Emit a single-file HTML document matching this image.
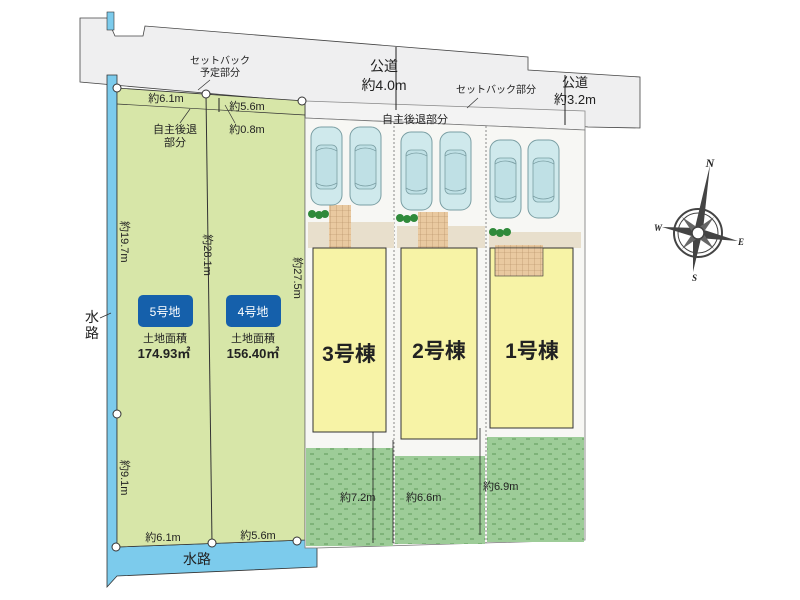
<!DOCTYPE html>
<html><head><meta charset="utf-8"><style>
html,body{margin:0;padding:0;background:#fff;}
svg{display:block;}
text{font-family:"Liberation Sans","Noto Sans CJK JP",sans-serif;fill:#222;}
</style></head><body>
<svg width="800" height="600" viewBox="0 0 800 600" xmlns="http://www.w3.org/2000/svg">
<defs>
<pattern id="grass" width="14" height="10" patternUnits="userSpaceOnUse">
<rect width="14" height="10" fill="#9dcc98"/>
<path d="M2 4h4M8 9h4" stroke="#5f9a5a" stroke-width="1"/>
</pattern>
<pattern id="tile" width="6" height="6" patternUnits="userSpaceOnUse">
<rect width="6" height="6" fill="#e9c9a0"/>
<path d="M0 0h6M0 0v6" stroke="#b08a60" stroke-width="0.6"/>
</pattern>
<g id="car">
<rect x="0" y="0" width="31" height="78" rx="10" fill="#cfe9ec" stroke="#7a9ea3" stroke-width="1"/>
<rect x="5" y="18" width="21" height="44" rx="5" fill="#bfe0e5" stroke="#7a9ea3" stroke-width="0.8"/>
<path d="M5 24q10 -6 21 0M5 56q10 6 21 0" fill="none" stroke="#7a9ea3" stroke-width="0.8"/>
</g>
</defs>
<!-- road -->
<polygon points="80,18 107,18 115,36 143,36 145,26 528,57 528,70 640,77 640,128 588,127 80,82" fill="#efeff0" stroke="#444" stroke-width="0.8"/>
<line x1="80" y1="82" x2="640" y2="128" stroke="#fff" stroke-width="0"/>
<!-- setback strip lots 1-3 -->
<polygon points="305,101 585,111 585,130 305,118" fill="#f3f3f3" stroke="#888" stroke-width="0.8"/>
<!-- water -->
<rect x="107" y="12" width="7" height="18" fill="#7ccbec" stroke="#333" stroke-width="0.6"/>
<polygon points="107,75 117,75 117,547 305,540 317,540 317,567 117,576 107,587" fill="#7ccbec" stroke="#333" stroke-width="0.8"/>
<!-- green lots -->
<polygon points="117,88 305,101 305,540 117,547" fill="#d7e6a8" stroke="#333" stroke-width="0.8"/>
<line x1="117" y1="104" x2="305" y2="115" stroke="#333" stroke-width="0.7"/>
<line x1="206" y1="94" x2="212" y2="543" stroke="#333" stroke-width="1"/>
<!-- lots 1-3 base -->
<polygon points="305,118 585,130 585,540 317,548 305,548" fill="#f7f7f4" stroke="#777" stroke-width="0.8"/>
<line x1="394" y1="122" x2="394" y2="545" stroke="#888" stroke-dasharray="2,2"/>
<line x1="486" y1="126" x2="486" y2="543" stroke="#888" stroke-dasharray="2,2"/>
<!-- paving -->
<rect x="308" y="222" width="86" height="26" fill="#e8dfcc"/>
<rect x="397" y="226" width="88" height="22" fill="#e8dfcc"/>
<rect x="489" y="232" width="92" height="16" fill="#e8dfcc"/>
<rect x="329" y="205" width="22" height="43" fill="url(#tile)"/>
<rect x="418" y="212" width="30" height="43" fill="url(#tile)"/>
<rect x="495" y="245" width="48" height="30" fill="url(#tile)"/>
<!-- cars -->
<use href="#car" x="311" y="127"/><use href="#car" x="350" y="127"/>
<use href="#car" x="401" y="132"/><use href="#car" x="440" y="132"/>
<use href="#car" x="490" y="140"/><use href="#car" x="528" y="140"/>
<!-- shrubs -->
<g fill="#2f8a3a"><circle cx="312" cy="214" r="4"/><circle cx="319" cy="215" r="4"/><circle cx="325" cy="214" r="4"/>
<circle cx="400" cy="218" r="4"/><circle cx="407" cy="219" r="4"/><circle cx="414" cy="218" r="4"/>
<circle cx="493" cy="232" r="4"/><circle cx="500" cy="233" r="4"/><circle cx="507" cy="232" r="4"/></g>
<!-- lawns -->
<rect x="306" y="448" width="87" height="98" fill="url(#grass)"/>
<rect x="395" y="456" width="90" height="88" fill="url(#grass)"/>
<rect x="487" y="437" width="97" height="105" fill="url(#grass)"/>
<!-- buildings -->
<rect x="313" y="248" width="73" height="184" fill="#f7f3a6" stroke="#333"/>
<rect x="401" y="248" width="76" height="191" fill="#f7f3a6" stroke="#333"/>
<rect x="490" y="248" width="83" height="180" fill="#f7f3a6" stroke="#333"/>
<rect x="495" y="248" width="48" height="28" fill="url(#tile)" stroke="#333" stroke-width="0.6"/>
<text x="349" y="361" font-size="21" font-weight="bold" text-anchor="middle">3号棟</text>
<text x="439" y="358" font-size="21" font-weight="bold" text-anchor="middle">2号棟</text>
<text x="532" y="358" font-size="21" font-weight="bold" text-anchor="middle">1号棟</text>
<!-- lawn dims -->
<g stroke="#222" stroke-width="0.8"><line x1="373" y1="432" x2="373" y2="543"/><line x1="393" y1="440" x2="393" y2="543"/><line x1="480" y1="428" x2="480" y2="535"/></g>
<text x="340" y="501" font-size="11">約7.2m</text>
<text x="406" y="501" font-size="11">約6.6m</text>
<text x="483" y="490" font-size="11">約6.9m</text>
<!-- circles -->
<g fill="#fff" stroke="#333" stroke-width="1"><circle cx="117" cy="88" r="4"/><circle cx="206" cy="94" r="4"/><circle cx="302" cy="101" r="4"/><circle cx="117" cy="414" r="4"/><circle cx="116" cy="547" r="4"/><circle cx="212" cy="543" r="4"/><circle cx="297" cy="541" r="4"/></g>
<!-- road dims -->
<line x1="396" y1="47" x2="396" y2="110" stroke="#222"/>
<line x1="565" y1="75" x2="565" y2="125" stroke="#222"/>
<text x="384" y="71" font-size="14" text-anchor="middle">公道</text>
<text x="384" y="90" font-size="14" text-anchor="middle">約4.0m</text>
<text x="575" y="87" font-size="13" text-anchor="middle">公道</text>
<text x="575" y="104" font-size="13" text-anchor="middle">約3.2m</text>
<text x="220" y="64" font-size="10" text-anchor="middle">セットバック</text>
<text x="220" y="76" font-size="10" text-anchor="middle">予定部分</text>
<line x1="210" y1="80" x2="198" y2="90" stroke="#333" stroke-width="0.7"/>
<text x="496" y="93" font-size="10" text-anchor="middle">セットバック部分</text>
<line x1="478" y1="98" x2="467" y2="108" stroke="#333" stroke-width="0.7"/>
<text x="415" y="123" font-size="11" text-anchor="middle">自主後退部分</text>
<text x="166" y="102" font-size="11" text-anchor="middle">約6.1m</text>
<text x="247" y="110" font-size="11" text-anchor="middle">約5.6m</text>
<text x="247" y="133" font-size="11" text-anchor="middle">約0.8m</text>
<line x1="219" y1="98" x2="219" y2="112" stroke="#222"/>
<line x1="225" y1="105" x2="235" y2="123" stroke="#333" stroke-width="0.7"/>
<text x="175" y="133" font-size="11" text-anchor="middle">自主後退</text>
<text x="175" y="146" font-size="11" text-anchor="middle">部分</text>
<line x1="180" y1="123" x2="190" y2="109" stroke="#333" stroke-width="0.7"/>
<!-- lot labels -->
<rect x="138" y="295" width="55" height="32" rx="5" fill="#1560ab"/>
<text x="165" y="316" font-size="12" fill="#fff" text-anchor="middle" style="fill:#fff">5号地</text>
<rect x="226" y="295" width="55" height="32" rx="5" fill="#1560ab"/>
<text x="253" y="316" font-size="12" text-anchor="middle" style="fill:#fff">4号地</text>
<text x="165" y="342" font-size="11" text-anchor="middle">土地面積</text>
<text x="164" y="358" font-size="13" font-weight="bold" text-anchor="middle">174.93㎡</text>
<text x="253" y="342" font-size="11" text-anchor="middle">土地面積</text>
<text x="253" y="358" font-size="13" font-weight="bold" text-anchor="middle">156.40㎡</text>
<!-- vertical dims -->
<text transform="translate(121,221) rotate(90)" font-size="11">約19.7m</text>
<text transform="translate(204,255) rotate(90)" font-size="11" text-anchor="middle">約28.1m</text>
<text transform="translate(294,278) rotate(90)" font-size="11" text-anchor="middle">約27.5m</text>
<text transform="translate(121,460) rotate(90)" font-size="11">約9.1m</text>
<text x="163" y="541" font-size="11" text-anchor="middle">約6.1m</text>
<text x="258" y="539" font-size="11" text-anchor="middle">約5.6m</text>
<text x="197" y="564" font-size="14" text-anchor="middle">水路</text>
<text x="92" y="322" font-size="14" text-anchor="middle">水</text>
<text x="92" y="338" font-size="14" text-anchor="middle">路</text>
<line x1="100" y1="318" x2="111" y2="313" stroke="#333" stroke-width="0.7"/>
<!-- compass -->
<g transform="translate(698,233)">
<circle r="24" fill="none" stroke="#444" stroke-width="2"/>
<circle r="20" fill="none" stroke="#444" stroke-width="1"/>
<polygon points="12,-68 5,-3 -5,3" fill="#444"/>
<polygon points="-5,39 -5,3 5,-3" fill="#444"/>
<polygon points="-36,-6 0,-5 0,5" fill="#444"/>
<polygon points="40,8 0,5 0,-5" fill="#444"/>
<polygon points="-16,-16 3,-3 -3,3" fill="#666"/><polygon points="16,16 3,-3 -3,3" fill="#666"/>
<polygon points="16,-16 3,3 -3,-3" fill="#666"/><polygon points="-16,16 3,3 -3,-3" fill="#666"/>
<circle r="6" fill="#fff" stroke="#444" stroke-width="1.5"/>
<text x="12" y="-66" font-size="12" font-weight="bold" font-style="italic" text-anchor="middle" style="font-family:'Liberation Serif',serif">N</text>
<text x="-44" y="-2" font-size="9" font-weight="bold" font-style="italic" style="font-family:'Liberation Serif',serif">W</text>
<text x="40" y="12" font-size="9" font-weight="bold" font-style="italic" style="font-family:'Liberation Serif',serif">E</text>
<text x="-6" y="48" font-size="9" font-weight="bold" font-style="italic" style="font-family:'Liberation Serif',serif">S</text>
</g>
</svg>
</body></html>
